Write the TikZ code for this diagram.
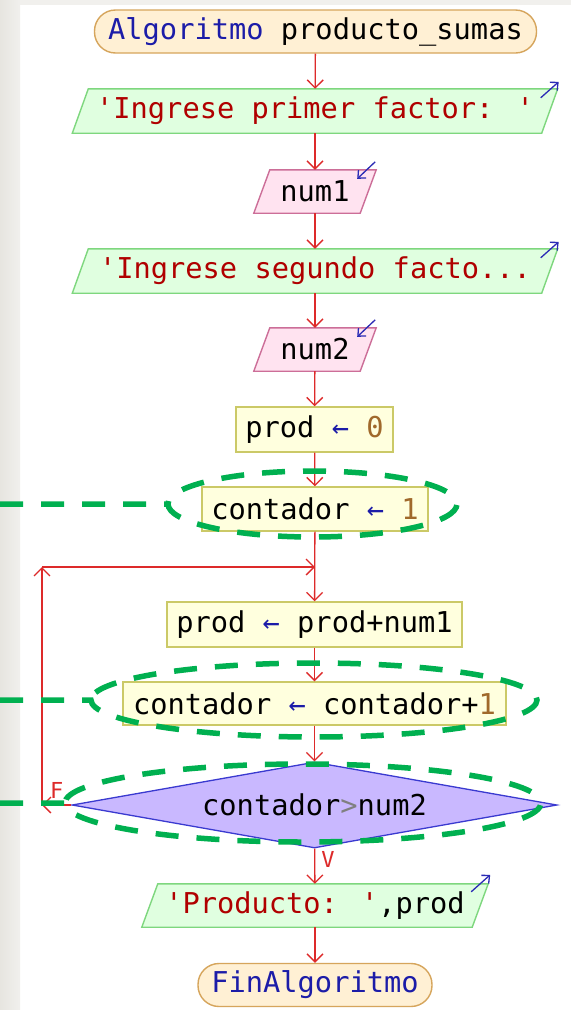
\documentclass[tikz,border=0pt]{standalone}
\usepackage{fontspec}
\newfontfamily\codefont[Ligatures=TeXOff]{DejaVu Sans Mono}
\usetikzlibrary{arrows.meta,calc,shapes.geometric,backgrounds}

\definecolor{flow}{HTML}{DD2A2A}
\definecolor{kwblue}{HTML}{1C1CA8}
\definecolor{strred}{HTML}{B00000}
\definecolor{numbrown}{HTML}{A0692B}
\definecolor{termfill}{HTML}{FFF0D4}
\definecolor{termline}{HTML}{D6A55C}
\definecolor{outfill}{HTML}{E0FFE0}
\definecolor{outedge}{HTML}{7ED77E}
\definecolor{infill}{HTML}{FFE3F0}
\definecolor{inedge}{HTML}{CC6E98}
\definecolor{asgfill}{HTML}{FFFFDE}
\definecolor{asgedge}{HTML}{CBC967}
\definecolor{condfill}{HTML}{C9B8FF}
\definecolor{condedge}{HTML}{3A3AD0}
\definecolor{markgreen}{HTML}{00B050}
\definecolor{echoblue}{HTML}{2B2BB5}
\definecolor{pagegray}{HTML}{F1F0ED}
\definecolor{edgegray}{HTML}{E7E5E0}

\newcommand\kwd[1]{\textcolor{kwblue}{#1}}
\newcommand\strg[1]{\textcolor{strred}{#1}}
\newcommand\numc[1]{\textcolor{numbrown}{#1}}
\newcommand\asg{\textcolor{kwblue}{←}}

% slanted input/output box drawn behind a text node
\newcommand\ioshape[3]{%
  \filldraw[fill=#2, draw=#3, line width=1.4pt]
    ($(#1.south west)+(-8pt,0pt)$) -- ($(#1.south east)+(-8pt,0pt)$) --
    ($(#1.north east)+(8pt,0pt)$) -- ($(#1.north west)+(8pt,0pt)$) -- cycle;}

\tikzset{
  every node/.style={font=\codefont\fontsize{28.7}{32}\selectfont, inner sep=0pt},
  term/.style={draw=termline, fill=termfill, line width=1.4pt, rounded corners=21pt, minimum height=43pt},
  asgbox/.style={draw=asgedge, fill=asgfill, line width=1.4pt, minimum height=45pt},
  iotext/.style={minimum height=44pt},
  cond/.style={diamond, draw=condedge, fill=condfill, line width=1.3pt,
    minimum width=485pt, minimum height=86pt, aspect=5.6},
  flowline/.style={draw=flow, line width=1.3pt},
  flowarrow/.style={flowline, -{Straight Barb[length=8pt,width=16pt]}},
  echo/.style={draw=echoblue, line width=1.3pt, -{Straight Barb[length=6pt,width=11pt]}},
  marker/.style={draw=markgreen, line width=5.5pt, dash pattern=on 23pt off 18pt},
  branch/.style={text=flow, font=\codefont\fontsize{22}{24}\selectfont},
}

\begin{document}
\begin{tikzpicture}[x=1pt, y=-1pt]
\useasboundingbox (0,0) rectangle (571,1010);

% flowchart nodes
\node[term, minimum width=442pt] (start) at (315.5,31.5) {\kwd{Algoritmo} producto\_sumas};
\node[iotext, minimum width=469pt] (p1) at (315,111) {\strg{'Ingrese primer factor: '}};
\node[iotext, minimum width=106pt, minimum height=43pt] (n1) at (315,191.5) {num1};
\node[iotext, minimum width=469pt] (p2) at (315,271) {\strg{'Ingrese segundo facto...}};
\node[iotext, minimum width=106pt, minimum height=43pt] (n2) at (315,349.5) {num2};
\node[asgbox, minimum width=157pt] (b0) at (314.5,429.5) {prod \asg{} \numc{0}};
\node[asgbox, minimum width=226pt, minimum height=44pt] (b1) at (315,509) {contador \asg{} \numc{1}};
\node[asgbox, minimum width=295pt] (b2) at (314.5,624.5) {prod \asg{} prod+num1};
\node[asgbox, minimum width=383pt, minimum height=43pt] (b3) at (314.5,703.5) {contador \asg{} contador+\numc{1}};
\node[cond] (c) at (314.5,805) {contador\textcolor{gray}{>}num2};
\node[iotext, minimum width=330pt, minimum height=43pt] (out) at (315,905.5) {\strg{'Producto: '},prod};
\node[term, minimum width=234pt] (end) at (315,985) {\kwd{FinAlgoritmo}};

% loop corners
\coordinate (j) at (315,567);
\coordinate (lt) at (42,567);
\coordinate (lb) at (42,805);

% page, input/output shapes behind the text
\begin{scope}[on background layer]
  \fill[white] (0,0) rectangle (571,1010);
  \fill[left color=edgegray, right color=pagegray] (0,0) rectangle (20,1010);
  \fill[pagegray] (20,0) rectangle (571,5);
  \ioshape{p1}{outfill}{outedge}
  \ioshape{p2}{outfill}{outedge}
  \ioshape{out}{outfill}{outedge}
  \ioshape{n1}{infill}{inedge}
  \ioshape{n2}{infill}{inedge}
\end{scope}

% read / write marks
\draw[echo] ($(p1.north east)+(-9pt,-9pt)$) -- ($(p1.north east)+(9pt,7pt)$);
\draw[echo] ($(p2.north east)+(-9pt,-9pt)$) -- ($(p2.north east)+(9pt,7pt)$);
\draw[echo] ($(out.north east)+(-9pt,-8pt)$) -- ($(out.north east)+(10pt,9pt)$);
\draw[echo] ($(n1.north east)+(7pt,8pt)$) -- ($(n1.north east)+(-11pt,-9pt)$);
\draw[echo] ($(n2.north east)+(7pt,8pt)$) -- ($(n2.north east)+(-11pt,-9pt)$);

% connectors
\draw[flowarrow] (start) -- (p1);
\draw[flowarrow] (p1) -- (n1);
\draw[flowarrow] (n1) -- (p2);
\draw[flowarrow] (p2) -- (n2);
\draw[flowarrow] (n2) -- (b0);
\draw[flowarrow] (b0) -- (b1);
\draw[flowarrow] (b1) -- (b2);
\draw[flowarrow] (b2) -- (b3);
\draw[flowarrow] (b3) -- (c);
\draw[flowarrow] (c) -- node[branch, right=6pt, pos=0.3] {V} (out);
\draw[flowarrow] (out) -- (end);
\draw[flowarrow] (c.west) -- node[branch, above=6pt, pos=0.5] {F} (lb);
\draw[flowarrow] (lb) -- (lt);
\draw[flowarrow] (lt) -- (j);

% highlighted steps
\draw[marker] (0,504) -- (168,504) arc[start angle=180, end angle=540, x radius=144.5pt, y radius=33pt];
\draw[marker] (0,700) -- (91,700) arc[start angle=180, end angle=540, x radius=223pt, y radius=37pt];
\draw[marker] (0,803) -- (65,803) arc[start angle=180, end angle=540, x radius=238pt, y radius=39pt];
\end{tikzpicture}
\end{document}
